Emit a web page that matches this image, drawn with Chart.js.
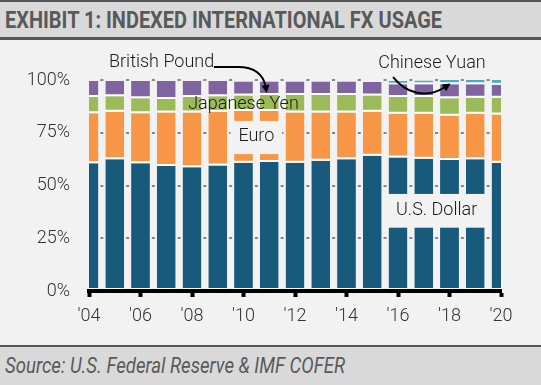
<!DOCTYPE html>
<html>
<head>
<meta charset="utf-8">
<script src="https://cdn.jsdelivr.net/npm/chart.js@4.4.1/dist/chart.umd.min.js"></script>
<style>
  html, body { margin: 0; padding: 0; }
  body {
    width: 541px; height: 385px; position: relative; overflow: hidden;
    background: #f2f2f2; font-family: Roboto, "Liberation Sans", sans-serif;
  }
  #title {
    position: absolute; left: 0; top: 0; width: 541px; height: 35px;
    background: #d9d9d9; border-top: 2px solid #555; border-bottom: 3px solid #555;
  }
  #title span {
    position: absolute; left: 5px; top: 7px; white-space: nowrap;
    font-size: 23px; line-height: 23px; font-weight: bold; color: #595959;
    transform-origin: left center;
  }
  #chartBox { position: absolute; left: 0; top: 40px; width: 541px; height: 305px; }
  #footer {
    position: absolute; left: 0; top: 345px; width: 541px; height: 40px;
    background: #d9d9d9; border-top: 2px solid #555; box-sizing: border-box;
  }
  #footer span {
    position: absolute; left: 5px; top: 6.6px; white-space: nowrap;
    font-size: 22.5px; line-height: 22.5px; font-style: italic; color: #595959;
    transform-origin: left center;
  }
</style>
</head>
<body>
<div id="title"><span id="titleText">EXHIBIT 1: INDEXED INTERNATIONAL FX USAGE</span></div>
<div id="chartBox"><canvas id="fxChart" width="541" height="305"></canvas></div>
<div id="footer"><span id="footerText">Source: U.S. Federal Reserve &amp; IMF COFER</span></div>

<script>
// Data (shares in %)
const years = [2004, 2005, 2006, 2007, 2008, 2009, 2010, 2011, 2012, 2013, 2014, 2015, 2016, 2017, 2018, 2019, 2020];
const usd = [60.5, 62.4, 60.5, 59.2, 58.6, 59.5, 60.8, 61.1, 60.8, 61.7, 62.4, 64.1, 63.3, 62.7, 62.1, 62.4, 60.8];
const eur = [23.8, 22.6, 23.8, 25.4, 26.0, 25.5, 24.5, 24.2, 23.8, 22.9, 22.2, 20.9, 20.7, 21.3, 21.0, 21.6, 22.9];
const jpy = [7.7, 7.3, 7.0, 6.4, 7.4, 7.3, 7.3, 7.6, 8.3, 8.3, 8.3, 7.6, 8.0, 8.0, 8.2, 7.6, 7.9];
const gbp = [7.5, 7.2, 8.2, 8.5, 7.5, 7.2, 6.7, 6.4, 6.4, 6.4, 6.4, 6.4, 6.0, 6.0, 6.7, 6.4, 6.1];
const cny = [0, 0, 0, 0, 0, 0, 0, 0, 0, 0, 0, 0, 1.5, 1.8, 2.0, 2.0, 2.3];
const yTicks = [0, 25, 50, 75, 100];

const seriesNames = ['U.S. Dollar', 'Euro', 'Japanese Yen', 'British Pound', 'Chinese Yuan'];
const seriesColors = ['#175a7c', '#f79646', '#9bbb59', '#8064a2', '#4bacc6'];

const FONT = 'Roboto, "Liberation Sans", sans-serif';

// squeeze the condensed header/footer text to the reference width
function fitText(id, width) {
    const el = document.getElementById(id);
    const w = el.getBoundingClientRect().width;
    el.style.transform = 'scaleX(' + (width / w) + ')';
}
fitText('titleText', 437);
fitText('footerText', 340);

function arrowHead(ctx, fromX, fromY, tipX, tipY) {
    const a = Math.atan2(tipY - fromY, tipX - fromX);
    const len = 8, half = 4;
    ctx.beginPath();
    ctx.moveTo(tipX, tipY);
    ctx.lineTo(tipX - len * Math.cos(a) + half * Math.sin(a), tipY - len * Math.sin(a) - half * Math.cos(a));
    ctx.lineTo(tipX - len * Math.cos(a) - half * Math.sin(a), tipY - len * Math.sin(a) + half * Math.cos(a));
    ctx.closePath();
    ctx.fill();
}

// Labels, boxes and arrows drawn on top of the bars
const notesPlugin = {
    id: 'notes',
    afterDatasetsDraw(chart) {
        const { ctx, scales: { x, y } } = chart;
        const px = i => x.getPixelForValue(i);
        const py = v => y.getPixelForValue(v);
        const bg = '#f2f2f2';
        ctx.save();

        // boxes that blank out part of the bars
        ctx.fillStyle = bg;
        ctx.fillRect(px(5.5), py(80.6), px(7.5) - px(5.5), py(64.9) - py(80.6));
        ctx.fillRect(px(11.5), py(46), px(15.5) - px(11.5), py(30) - py(46));

        ctx.fillStyle = '#1a1a1a';
        ctx.font = '300 18px ' + FONT;
        ctx.textAlign = 'center';
        ctx.textBaseline = 'middle';
        ctx.fillText('Euro', px(6.5), py(73));
        ctx.fillText('U.S. Dollar', px(13.5), py(38));
        ctx.fillText('Japanese Yen', px(6), py(88.6));
        ctx.fillText('British Pound', px(2.82), py(108.1));
        ctx.fillText('Chinese Yuan', px(13.32), py(107.6));

        // arrows
        ctx.strokeStyle = '#000';
        ctx.fillStyle = '#000';
        ctx.lineWidth = 2;
        ctx.beginPath();
        ctx.moveTo(px(4.85), py(106.2));
        ctx.lineTo(px(5.79), py(106.2));
        ctx.quadraticCurveTo(px(6.72), py(106.2), px(6.87), py(96.5));
        ctx.stroke();
        arrowHead(ctx, px(6.85), py(98), px(6.9), py(93.8));

        ctx.beginPath();
        ctx.moveTo(px(11.81), py(101.4));
        ctx.bezierCurveTo(px(12.27), py(94.3), px(13.05), py(90.5), px(13.83), py(96.7));
        ctx.stroke();
        arrowHead(ctx, px(13.8), py(96.4), px(14.04), py(98.4));

        ctx.restore();
    }
};

const datasets = [usd, eur, jpy, gbp, cny].map((values, i) => ({
    label: seriesNames[i],
    data: values,
    backgroundColor: seriesColors[i],
    borderColor: '#ffffff',
    borderWidth: { top: 0, right: 0, bottom: 2, left: 0 },
    borderSkipped: false,
    barPercentage: 0.73,
    categoryPercentage: 1,
    clip: 0
}));

new Chart(document.getElementById('fxChart'), {
    type: 'bar',
    data: { labels: years, datasets: datasets },
    options: {
        responsive: false,
        animation: false,
        devicePixelRatio: 1,
        layout: { padding: { top: 40, right: 40, bottom: 0, left: 0 } },
        plugins: {
            legend: { display: false },
            tooltip: { enabled: false }
        },
        scales: {
            x: {
                stacked: true,
                offset: false,
                grid: {
                    offset: false,
                    drawOnChartArea: false,
                    drawTicks: true,
                    tickLength: 6,
                    tickWidth: 4,
                    tickColor: '#000'
                },
                border: { display: true, color: '#000', width: 4, z: 1 },
                ticks: {
                    autoSkip: false,
                    maxRotation: 0,
                    padding: 9,
                    color: '#333',
                    font: { family: FONT, size: 18, weight: '300' },
                    callback: (v, i) => (i % 2 === 0 ? "'" + String(years[i]).slice(2) : null)
                },
                afterFit: scale => { scale.height = 54; }
            },
            y: {
                stacked: true,
                min: yTicks[0],
                max: yTicks[yTicks.length - 1],
                ticks: {
                    stepSize: 25,
                    padding: 19,
                    color: '#333',
                    font: { family: FONT, size: 18, weight: '300' },
                    callback: v => v + '%'
                },
                grid: {
                    drawTicks: false,
                    lineWidth: 2,
                    color: '#858585'
                },
                // short dashes that land in the gaps between bars (category step 25.75px)
                border: {
                    display: false,
                    dash: [3, 22.75],
                    dashOffset: 14.4
                },
                afterFit: scale => { scale.width = 89; }
            }
        }
    },
    plugins: [notesPlugin]
});
</script>
</body>
</html>
